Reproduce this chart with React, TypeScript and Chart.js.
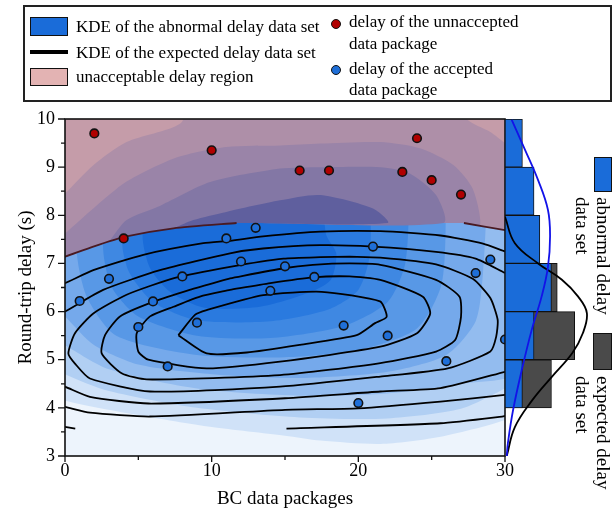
import React, { useEffect, useRef } from 'react';
import { Chart, registerables } from 'chart.js';
Chart.register(...registerables);

const FONT = "'Liberation Serif', 'Times New Roman', Times, serif";

// ---- axis ticks ----
const xMajorTicks = [0, 10, 20, 30];
const xMinorTicks = [5, 15, 25];
const yMajorTicks = [3, 4, 5, 6, 7, 8, 9, 10];
const yMinorTicks = [3.5, 4.5, 5.5, 6.5, 7.5, 8.5, 9.5];

// ---- scatter points ----
const unacceptedX = [2, 10, 16, 18, 23, 24, 25, 27, 4];
const unacceptedY = [9.7, 9.35, 8.93, 8.93, 8.9, 9.6, 8.73, 8.43, 7.52];
const acceptedX = [13, 11, 21, 29, 28, 12, 15, 17, 8, 3, 1, 6, 14, 5, 9, 19, 22, 26, 7, 20, 30];
const acceptedY = [7.74, 7.52, 7.35, 7.08, 6.8, 7.04, 6.94, 6.72, 6.73, 6.68, 6.22, 6.21, 6.43, 5.68, 5.77, 5.71, 5.5, 4.97, 4.86, 4.1, 5.42];

// ---- KDE of the abnormal delay data set (filled levels) ----
const abnormalLevel0 = [[-1, 2], [31, 2], [31, 11], [-1, 11]];
const abnormalLevel1 = [[-1, 4.3], [0, 4.15], [5, 3.85], [10, 3.6], [15, 3.42], [17.4, 3.32], [21.5, 3.25], [25.4, 3.39], [30, 3.75], [31, 4], [31, 11], [-1, 11]];
const abnormalLevel2 = [[-1, 4.9], [0, 4.7], [3, 4.35], [9, 4.0], [16, 3.8], [22, 3.78], [27, 3.98], [30, 4.4], [31, 4.6], [31, 11], [-1, 11]];
const abnormalLevel3 = [[-1, 5.5], [0, 5.3], [3, 4.8], [9, 4.4], [16, 4.25], [22, 4.3], [27, 4.5], [31, 4.8], [31, 11], [-1, 11]];
const abnormalLevel4 = [[-1, 8.5], [-1, 6.2], [0, 5.9], [2, 5.3], [5, 4.9], [10, 4.7], [16, 4.62], [22, 4.75], [26, 5.1], [28, 5.8], [28.5, 6.8], [28.8, 8.5]];
const abnormalLevel5 = [[1.5, 8.5], [0.8, 7.3], [1.5, 6.3], [3.5, 5.5], [9, 5.1], [15, 5.05], [20, 5.2], [24, 5.65], [25.7, 6.6], [26, 8.5]];
const abnormalLevel6 = [[3, 8.5], [2.6, 7.3], [3.2, 6.5], [5, 5.9], [9, 5.5], [14, 5.45], [19, 5.7], [22, 6.2], [23.2, 7.0], [23.5, 8.5]];
const abnormalLevel7 = [[4.2, 8.5], [3.9, 7.4], [4.4, 6.8], [6, 6.2], [9, 5.82], [14, 5.8], [18, 6.05], [20, 6.45], [20.8, 7.2], [20.8, 8.5]];
const abnormalLevel8 = [[5.5, 8.5], [5.3, 7.5], [5.8, 6.9], [7.2, 6.4], [9.5, 6.08], [13.3, 6.1], [16.5, 6.38], [18.1, 6.65], [18.5, 7.2], [17.8, 7.6], [17.6, 8.5]];
const abnormalLevels = [abnormalLevel0, abnormalLevel1, abnormalLevel2, abnormalLevel3, abnormalLevel4, abnormalLevel5, abnormalLevel6, abnormalLevel7, abnormalLevel8];
const abnormalColors = ['#edf4fc', '#d0e2f8', '#b1cff3', '#93bcef', '#75a9eb', '#5898e6', '#3f88e2', '#2a7adf', '#1a6cd9'];

// ---- unacceptable delay region (with the abnormal KDE seen through it) ----
const unacceptRegion = [[-0.5, 7.1], [0, 7.14], [1.93, 7.35], [4.2, 7.56], [7.4, 7.73], [11.7, 7.84], [27.2, 7.84], [30, 7.69], [30.5, 7.66], [30.5, 10.5], [-0.5, 10.5]];
const unacceptLevel1 = [[-0.5, 8.3], [0, 8.45], [1.93, 9.04], [4.2, 9.52], [7.84, 9.9], [9, 10.5], [27, 10.5], [27.4, 10], [29, 9.73], [30, 9.5], [30.5, 9.4], [30.5, 7.66], [30, 7.69], [27.2, 7.84], [11.7, 7.84], [7.4, 7.73], [4.2, 7.56], [1.93, 7.35], [0, 7.14], [-0.5, 7.1]];
const unacceptLevel2 = [[-0.5, 7.5], [0, 7.62], [1.93, 8.14], [4.2, 8.7], [7.6, 9.2], [11, 9.42], [14.7, 9.45], [17.4, 9.49], [21.5, 9.52], [24.2, 9.39], [26.5, 9.04], [27.8, 8.55], [28.3, 7.8], [27.2, 7.84], [11.7, 7.84], [7.4, 7.73], [4.2, 7.56], [1.93, 7.35], [0, 7.14], [-0.5, 7.1]];
const unacceptLevel3 = [[3.0, 7.45], [4.2, 7.9], [6.5, 8.2], [9.9, 8.69], [14.66, 8.97], [17.4, 9.0], [21.5, 9.0], [23.5, 8.87], [25.3, 8.42], [25.8, 7.84], [11.7, 7.84], [7.4, 7.73], [4.2, 7.56]];
const unacceptLevel4 = [[7.5, 7.74], [8.75, 7.9], [11, 8.07], [14.66, 8.31], [17.4, 8.42], [21, 8.14], [22, 7.84], [11.7, 7.84]];
const unacceptLevels = [unacceptRegion, unacceptLevel1, unacceptLevel2, unacceptLevel3, unacceptLevel4];
const unacceptColors = ['#c59ca9', '#ae8fa8', '#9a84a8', '#8377a5', '#5f5f9e'];

// ---- KDE of the expected delay data set (contour lines) ----
const expectedLineTopA = [[-0.3, 7.12], [0, 7.14], [1.93, 7.35], [4.2, 7.56], [7.4, 7.73], [11.7, 7.84]];
const expectedLineTopB = [[27.2, 7.84], [30, 7.69], [30.3, 7.67]];
const expectedLine2 = [[-0.3, 6.57], [0, 6.59], [1.93, 6.86], [5.34, 7.18], [9.43, 7.42], [11.25, 7.47], [13.5, 7.56], [17.4, 7.66], [21.5, 7.67], [25.6, 7.58], [28.5, 7.41], [30, 7.25], [30.3, 7.22]];
const expectedLine3 = [[-0.3, 5.98], [0, 6.0], [2.6, 6.45], [6.48, 6.86], [11.25, 7.21], [13.5, 7.31], [17.4, 7.38], [21, 7.35], [25.3, 7.24], [28, 7.1], [30, 6.8], [30.3, 6.76]];
const expectedRing4 = [[19.4, 7.14], [21.5, 7.12], [25.3, 6.98], [27.8, 6.68], [29.0, 6.28], [29.5, 5.83], [29.4, 5.48], [29.0, 5.17], [26.1, 4.82], [21.5, 4.65], [14.66, 4.44], [5.8, 4.34], [1.7, 4.61], [0.68, 4.92], [0.23, 5.13], [0.68, 5.55], [1.93, 5.96], [4.2, 6.35], [7.5, 6.7], [11.25, 6.93], [14.9, 7.1], [17.4, 7.13], [19.4, 7.14]];
const expectedRing3 = [[11.25, 6.69], [14.9, 6.9], [16.9, 6.97], [19.4, 7.0], [21.5, 6.97], [25.3, 6.66], [26.9, 6.31], [27.0, 5.89], [26.6, 5.41], [25.3, 5.17], [21.5, 4.93], [14.66, 4.68], [5.57, 4.59], [3.86, 4.72], [2.5, 5.13], [2.73, 5.51], [3.75, 5.9], [6.0, 6.2], [8.5, 6.45], [11.25, 6.69]];
const expectedRing2 = [[11.25, 6.45], [14, 6.59], [16.9, 6.71], [19.4, 6.73], [21.5, 6.66], [24.4, 6.31], [24.9, 5.96], [24.0, 5.55], [21.5, 5.27], [14.66, 4.96], [9.66, 4.82], [5.68, 5.0], [5.0, 5.17], [4.89, 5.55], [5.8, 5.9], [7.4, 6.1], [9.2, 6.31], [11.25, 6.45]];
const expectedRing1 = [[7.73, 5.51], [8.86, 5.93], [9.66, 6.03], [13.52, 6.34], [17.5, 6.41], [21.48, 6.21], [21.93, 5.89], [21.14, 5.76], [19.89, 5.51], [16.02, 5.31], [12.39, 5.15], [9.66, 5.13], [7.73, 5.51]];
const expectedLowLine1 = [[-0.3, 4.46], [0, 4.44], [1.7, 4.23], [5.7, 4.09], [15, 4.2], [21.5, 4.34], [25.6, 4.41], [30, 4.75], [30.3, 4.78]];
const expectedLowLine2 = [[-0.3, 4.03], [0, 4.02], [1.7, 3.9], [5.8, 3.82], [15, 3.96], [20.0, 3.99], [25.6, 4.13], [30, 4.27], [30.3, 4.28]];
const expectedLowLine3 = [[15.1, 3.57], [25.6, 3.68], [29.8, 3.82], [30.3, 3.85]];
const expectedLowStub = [[-0.3, 3.62], [0.7, 3.57]];
const expectedLines = [expectedLine2, expectedLine3, expectedRing4, expectedRing3, expectedRing2, expectedRing1, expectedLowLine1, expectedLowLine2, expectedLowLine3, expectedLowStub];

// ---- marginal histogram (bins of 1 s) ----
const abnormalBinCenters = [4.5, 5.5, 6.5, 7.5, 8.5, 9.5];
const abnormalCounts = [3, 5, 8, 6, 5, 3];
const expectedBinCenters = [4.5, 5.5, 6.5];
const expectedCounts = [8, 12, 9];
const expectedKdeY = [3.0, 3.6, 4.16, 4.65, 5.14, 5.55, 5.97, 6.31, 6.66, 7.0, 7.42, 7.97];
const expectedKdeCount = [0.3, 1.7, 4.7, 8.1, 11.6, 13.4, 14.1, 12.6, 9.8, 5.7, 1.7, 0.0];
const abnormalKdeY = [3.0, 3.27, 3.96, 4.79, 5.62, 6.31, 6.93, 7.56, 8.11, 8.73, 9.36, 9.98];
const abnormalKdeCount = [0.3, 0.5, 1.4, 2.9, 4.6, 6.3, 7.4, 7.76, 7.4, 5.7, 3.45, 1.16];

const toXY = (pts: number[][]) => pts.map(([x, y]) => ({ x, y }));

function shape(pts: number[][], color: string) {
  return {
    type: 'line', data: toXY(pts), backgroundColor: color, borderColor: 'rgba(0,0,0,0)', borderWidth: 0,
    fill: 'shape', pointRadius: 0, pointHoverRadius: 0, tension: 0.25,
  };
}
function path(pts: number[][], color: string, width: number) {
  return {
    type: 'line', data: toXY(pts), borderColor: color, borderWidth: width, backgroundColor: color,
    fill: false, pointRadius: 0, pointHoverRadius: 0, tension: 0.2,
  };
}

const frameTicks = {
  id: 'frameTicks',
  afterDraw(chart: any) {
    const { ctx, chartArea: a, scales } = chart;
    const x = scales.x, y = scales.y;
    ctx.save();
    ctx.strokeStyle = '#111';
    ctx.lineWidth = 1.6;
    ctx.strokeRect(a.left, a.top, a.right - a.left, a.bottom - a.top);
    ctx.beginPath();
    for (const v of yMajorTicks) { const p = y.getPixelForValue(v); ctx.moveTo(a.left - 7, p); ctx.lineTo(a.left, p); }
    for (const v of yMinorTicks) { const p = y.getPixelForValue(v); ctx.moveTo(a.left - 4, p); ctx.lineTo(a.left, p); }
    for (const v of xMajorTicks) { const p = x.getPixelForValue(v); ctx.moveTo(p, a.bottom); ctx.lineTo(p, a.bottom + 6); }
    for (const v of xMinorTicks) { const p = x.getPixelForValue(v); ctx.moveTo(p, a.bottom); ctx.lineTo(p, a.bottom + 4); }
    ctx.lineWidth = 1.3;
    ctx.stroke();
    ctx.restore();
  },
};

function withOrder(list: any[]) {
  return list.map((d, i) => ({ ...d, order: -i }));
}

export default function App() {
  const mainRef = useRef<HTMLCanvasElement>(null);
  const histRef = useRef<HTMLCanvasElement>(null);

  useEffect(() => {
    const mainSets: any[] = [];
    abnormalLevels.forEach((lv, i) => mainSets.push(shape(lv, abnormalColors[i])));
    expectedLines.forEach((ln) => mainSets.push(path(ln, '#000', 1.8)));
    unacceptLevels.forEach((lv, i) => mainSets.push(shape(lv, unacceptColors[i])));
    mainSets.push(path(expectedLineTopA, '#4a1a22', 1.8));
    mainSets.push(path(expectedLineTopB, '#4a1a22', 1.8));
    mainSets.push({
      type: 'scatter', label: 'delay of the unnaccepted data package',
      data: unacceptedX.map((x, i) => ({ x, y: unacceptedY[i] })),
      backgroundColor: '#b00000', borderColor: '#111', borderWidth: 1.6, pointRadius: 4.3, pointHoverRadius: 4.3,
    });
    mainSets.push({
      type: 'scatter', label: 'delay of the accepted data package',
      data: acceptedX.map((x, i) => ({ x, y: acceptedY[i] })),
      backgroundColor: '#1f6fd8', borderColor: '#111', borderWidth: 1.6, pointRadius: 4.3, pointHoverRadius: 4.3,
    });

    const main = new Chart(mainRef.current as HTMLCanvasElement, {
      type: 'scatter',
      data: { datasets: withOrder(mainSets) },
      options: {
        responsive: false, animation: false, devicePixelRatio: 1, events: [],
        layout: { padding: { left: 0, top: 119, right: 108, bottom: 0 } },
        scales: {
          x: {
            type: 'linear', min: 0, max: 30, position: 'bottom',
            grid: { display: false, drawTicks: false }, border: { display: false },
            ticks: { stepSize: 10, color: '#000', font: { family: FONT, size: 18 }, padding: 4, maxRotation: 0, autoSkip: false },
            title: { display: true, text: 'BC data packages', color: '#000', font: { family: FONT, size: 19 }, padding: { top: 4, bottom: 0 } },
            afterFit: (s: any) => { s.height = 54; },
          },
          y: {
            type: 'linear', min: 3, max: 10, position: 'left',
            grid: { display: false, drawTicks: false }, border: { display: false },
            ticks: { stepSize: 1, color: '#000', font: { family: FONT, size: 18 }, padding: 10, autoSkip: false },
            title: { display: true, text: 'Round-trip delay (s)', color: '#000', font: { family: FONT, size: 19 }, padding: { top: 15, bottom: 0 } },
            afterFit: (s: any) => { s.width = 65; },
          },
        },
        plugins: { legend: { display: false }, tooltip: { enabled: false } },
      } as any,
      plugins: [frameTicks],
    } as any);

    const histSets: any[] = [
      {
        type: 'bar', label: 'expected delay data set',
        data: expectedBinCenters.map((c, i) => ({ x: expectedCounts[i], y: c })),
        backgroundColor: '#4a4a4a', borderColor: '#111', borderWidth: 1, borderSkipped: false,
        grouped: false, barPercentage: 1, categoryPercentage: 1,
      },
      {
        type: 'bar', label: 'abnormal delay data set',
        data: abnormalBinCenters.map((c, i) => ({ x: abnormalCounts[i], y: c })),
        backgroundColor: '#1a6cd9', borderColor: '#111', borderWidth: 1, borderSkipped: false,
        grouped: false, barPercentage: 1, categoryPercentage: 1,
      },
      {
        type: 'line', indexAxis: 'y', data: expectedKdeY.map((y, i) => ({ x: expectedKdeCount[i], y })),
        borderColor: '#000', borderWidth: 1.8, pointRadius: 0, fill: false, tension: 0.4,
      },
      {
        type: 'line', indexAxis: 'y', data: abnormalKdeY.map((y, i) => ({ x: abnormalKdeCount[i], y })),
        borderColor: '#1212e8', borderWidth: 1.8, pointRadius: 0, fill: false, tension: 0.4,
      },
    ];

    const hist = new Chart(histRef.current as HTMLCanvasElement, {
      type: 'bar',
      data: { datasets: withOrder(histSets) },
      options: {
        indexAxis: 'y', responsive: false, animation: false, devicePixelRatio: 1, events: [],
        layout: { padding: { left: 0, right: 10, top: 119, bottom: 54 } },
        scales: {
          x: { type: 'linear', min: 0, max: 15.5, display: false, offset: false },
          y: { type: 'linear', min: 3, max: 10, display: false, offset: false, ticks: { stepSize: 1 } },
        },
        plugins: { legend: { display: false }, tooltip: { enabled: false } },
      } as any,
    } as any);

    return () => { main.destroy(); hist.destroy(); };
  }, []);

  const txt = (left: number, top: number, size: number): React.CSSProperties => ({
    position: 'absolute', left, top, fontSize: size, lineHeight: '20px', whiteSpace: 'nowrap', color: '#000', fontFamily: FONT,
  });
  const vert = (left: number, top: number): React.CSSProperties => ({
    position: 'absolute', left, top, fontSize: 19, lineHeight: '21px', whiteSpace: 'nowrap', color: '#000',
    fontFamily: FONT, writingMode: 'vertical-rl' as any,
  });

  return (
    <div style={{ position: 'absolute', left: 0, top: 0, width: 613, height: 510, overflow: 'hidden', background: '#fff' }}>
      <canvas ref={mainRef} width={613} height={510} style={{ position: 'absolute', left: 0, top: 0, width: 613, height: 510 }} />
      <canvas ref={histRef} width={100} height={510} style={{ position: 'absolute', left: 505, top: 0, width: 100, height: 510 }} />

      {/* top legend */}
      <div style={{ position: 'absolute', left: 23, top: 5, width: 589, height: 97, border: '2px solid #222', boxSizing: 'border-box' }} />
      <div style={{ position: 'absolute', left: 30, top: 17, width: 38, height: 19, background: '#1a6cd9', border: '1.5px solid #111', boxSizing: 'border-box' }} />
      <div style={{ position: 'absolute', left: 30, top: 50, width: 38, height: 4, background: '#000' }} />
      <div style={{ position: 'absolute', left: 30, top: 68, width: 38, height: 18, background: '#e3b3b3', border: '1.5px solid #111', boxSizing: 'border-box' }} />
      <div style={txt(76, 17, 17)}>KDE of the abnormal delay data set</div>
      <div style={txt(76, 43, 17)}>KDE of the expected delay data set</div>
      <div style={txt(76, 67, 17)}>unacceptable delay region</div>
      <div style={{ position: 'absolute', left: 331, top: 19, width: 10, height: 10, borderRadius: '50%', background: '#b00000', border: '1.5px solid #111', boxSizing: 'border-box' }} />
      <div style={{ position: 'absolute', left: 331, top: 65, width: 10, height: 10, borderRadius: '50%', background: '#1f6fd8', border: '1.5px solid #111', boxSizing: 'border-box' }} />
      <div style={txt(349, 12, 17)}>delay of the unnaccepted</div>
      <div style={txt(349, 34, 17)}>data package</div>
      <div style={txt(349, 59, 17)}>delay of the accepted</div>
      <div style={txt(349, 80, 17)}>data package</div>

      {/* right legend */}
      <div style={{ position: 'absolute', left: 594, top: 157, width: 18, height: 35, background: '#1a6cd9', border: '1px solid #111', boxSizing: 'border-box' }} />
      <div style={vert(572, 197)}>abnormal delay<br />data set</div>
      <div style={{ position: 'absolute', left: 593, top: 333, width: 19, height: 37, background: '#4a4a4a', border: '1px solid #111', boxSizing: 'border-box' }} />
      <div style={vert(572, 376)}>expected delay<br />data set</div>
    </div>
  );
}
